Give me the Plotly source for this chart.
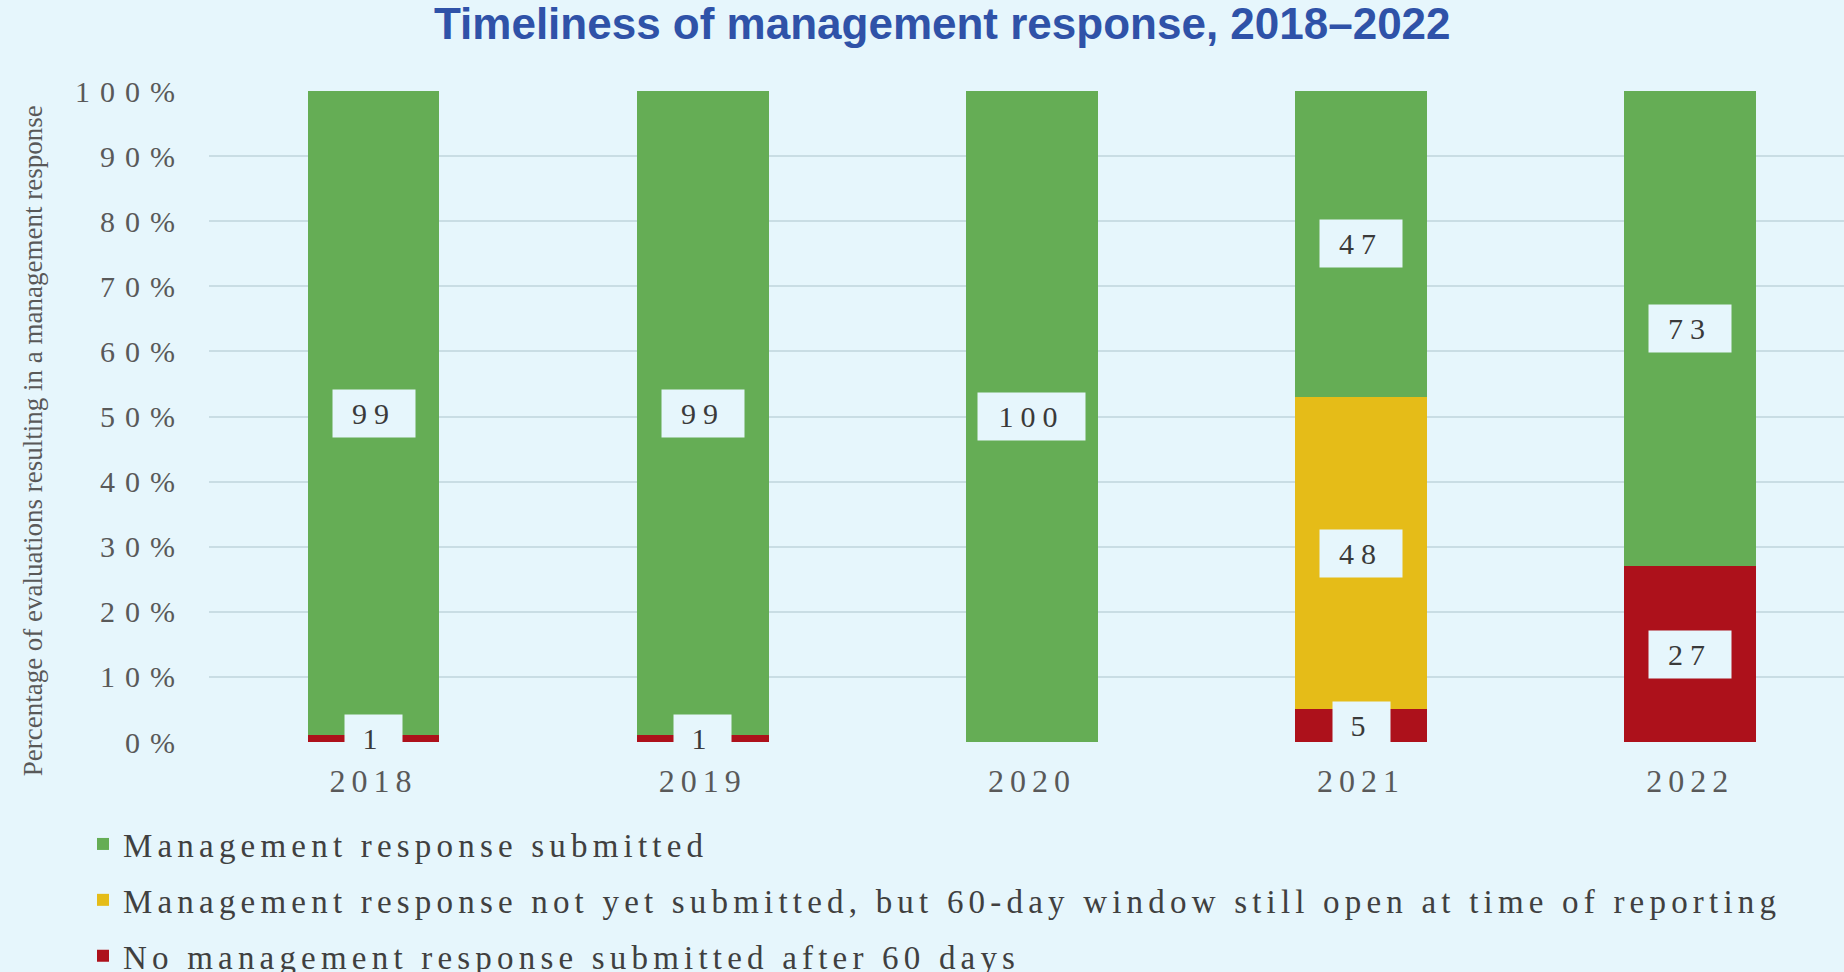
"""Timeliness of management response, 2018–2022 — stacked percentage bars."""

import plotly.graph_objects as go

# ── data ─────────────────────────────────────────────────────────────

years = ["2018", "2019", "2020", "2021", "2022"]
submitted = [99, 99, 100, 47, 73]
window_open = [0, 0, 0, 48, 0]
not_submitted = [1, 1, 0, 5, 27]

y_ticks = [0, 10, 20, 30, 40, 50, 60, 70, 80, 90, 100]
y_tick_labels = [f"{v}%" for v in y_ticks]
y_title = "Percentage of evaluations resulting in a management response"

series = [
    ("No management response submitted after 60 days", not_submitted, "#AD111B", 3),
    (
        "Management response not yet submitted, but 60-day window still open at time of reporting",
        window_open,
        "#E5BC18",
        2,
    ),
    ("Management response submitted", submitted, "#65AD55", 1),
]

SERIF = "Liberation Serif, Times New Roman, serif"
BG = "#E6F6FC"
TEXT = "#595959"

# ── chart ────────────────────────────────────────────────────────────

fig = go.Figure()
for name, values, color, rank in series:
    fig.add_trace(
        go.Bar(
            x=years,
            y=values,
            name=name,
            marker={"color": color, "line": {"width": 0}},
            legendgroup=name,
            legendrank=rank,
            hoverinfo="skip",
        )
    )

# value boxes (background-coloured), centred on each segment.
# x is the category index: "2018" etc. look numeric, so plotly would
# otherwise read them as range values on the category axis.
annotations = []
base = [0] * len(years)
for name, values, color, rank in series:
    for i, v in enumerate(values):
        if v > 0:
            label = str(v)
            annotations.append(
                dict(
                    x=i,
                    y=base[i] + v / 2,
                    xref="x",
                    yref="y",
                    text=label,
                    showarrow=False,
                    bgcolor=BG,
                    borderpad=4,
                    width=24 + 25 * len(label),
                    height=39,
                    font={"family": SERIF, "size": 30, "color": "#3A3A3A"},
                )
            )
        base[i] += v

annotations.append(
    dict(
        text=y_title,
        xref="paper",
        yref="paper",
        x=-0.1076,
        y=0.462,
        xanchor="center",
        yanchor="middle",
        textangle=-90,
        showarrow=False,
        font={"family": SERIF, "size": 27, "color": TEXT},
    )
)

fig.update_layout(
    width=1844,
    height=972,
    paper_bgcolor=BG,
    plot_bgcolor=BG,
    margin={"l": 209, "r": 0, "t": 91, "b": 230, "autoexpand": False},
    barmode="stack",
    bargap=0.6,
    title={
        "text": "<b>Timeliness of management response, 2018–2022</b>",
        "x": 0.511,
        "xanchor": "center",
        "y": 1 - 24 / 972,
        "yanchor": "middle",
        "font": {"family": "Liberation Sans, Arial, sans-serif", "size": 44, "color": "#2F52A8"},
    },
    xaxis={
        "type": "category",
        "range": [-0.5, 4.467],
        "showgrid": False,
        "showline": False,
        "ticks": "",
        "ticklabelstandoff": 17,
        "tickfont": {"family": SERIF, "size": 32, "color": TEXT},
    },
    yaxis={
        "range": [0, 100],
        "tickvals": y_ticks,
        "ticktext": y_tick_labels,
        "showgrid": True,
        "gridcolor": "#C9DDE4",
        "gridwidth": 2,
        "zeroline": False,
        "showline": False,
        "ticks": "",
        "ticklabelstandoff": 23,
        "tickfont": {"family": SERIF, "size": 30, "color": TEXT},
    },
    legend={
        "orientation": "v",
        "xref": "container",
        "yref": "container",
        "x": 0.045,
        "xanchor": "left",
        "y": 1 - 816 / 972,
        "yanchor": "top",
        "tracegroupgap": 10,
        "bgcolor": "rgba(0,0,0,0)",
        "font": {"family": SERIF, "size": 33, "color": "#404040"},
    },
    annotations=annotations,
    showlegend=True,
)

# page flush to the window, and the source's loosely tracked serif text
spacing_js = """
document.body.style.margin = '0';
var gd = document.getElementById('{plot_id}');
function track() {
  gd.querySelectorAll('.legend .scrollbox').forEach(function (s) { s.removeAttribute('clip-path'); });
  gd.querySelectorAll('.legendtext').forEach(function (t) { t.style.letterSpacing = '5.2px'; });
  gd.querySelectorAll('.ytick text').forEach(function (t) { t.style.letterSpacing = '10px'; });
  gd.querySelectorAll('.xtick text').forEach(function (t) { t.style.letterSpacing = '6px'; });
  gd.querySelectorAll('.annotation-text-g .annotation-text').forEach(function (t) {
    if (/^[0-9]+$/.test(t.textContent)) { t.style.letterSpacing = '7px'; }
  });
}
track();
gd.on('plotly_afterplot', track);
"""

fig.write_html("out.html", post_script=spacing_js, config={"displayModeBar": False})
